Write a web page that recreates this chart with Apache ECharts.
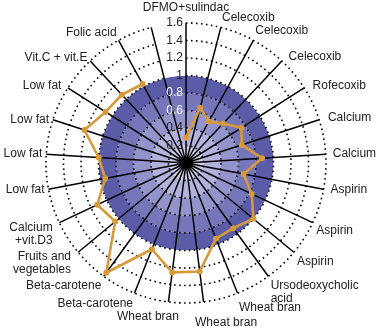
<!DOCTYPE html>
<html><head><meta charset="utf-8">
<script src="https://cdn.jsdelivr.net/npm/echarts@6/dist/echarts.min.js"></script>
<style>html,body{margin:0;padding:0;background:#fff}#c{width:377px;height:328px}</style>
</head><body><div id="c"></div>
<script>
var categories = ['DFMO+sulindac','Celecoxib','Celecoxib','Celecoxib','Rofecoxib','Calcium','Calcium',
  'Aspirin','Aspirin','Aspirin','Ursodeoxycholic\nacid','Wheat bran','Wheat bran','Wheat bran',
  'Beta-carotene','Beta-carotene','Fruits and\nvegetables','Calcium\n+vit.D3','Low fat','Low fat',
  'Low fat','Low fat','Vit.C + vit.E','Folic acid',''];
var values = [0.29,0.65,0.54,0.62,0.75,0.67,0.87,0.67,0.83,1.0,0.92,0.93,1.25,1.26,
  1.06,1.55,1.05,1.12,0.94,1.0,1.22,1.09,1.07,1.03,'-'];
var radiusTicks = [0,0.2,0.4,0.6,0.8,1,1.2,1.4,1.6];
var bandColors = ['#cdcde9','#b2b2dd','#9494cc','#7676ba','#5b5ca8','#ffffff','#ffffff','#ffffff'];

// label nudges (padding) per category index
var labelPad = {
  0:[0,0,5,0], 1:[0,0,-1,53], 3:[0,0,-5,4], 4:[0,0,-6,5], 5:[0,0,-6,5], 6:[3,0,0,3],
  7:[3,0,0,3], 11:[4,0,0,0], 12:[10,0,0,44], 13:[4,40,0,0], 16:[-5,4,0,0], 17:[-3,3,0,0],
  18:[3,0,0,0], 19:[4,0,0,0], 20:[0,0,-8,0], 21:[0,3,-6,0], 22:[0,0,-6,0], 23:[0,0,-2,0]
};
var angleData = categories.map(function(c,i){
  return labelPad[i] ? {value:c, textStyle:{padding:labelPad[i]}} : c;
});

var chart = echarts.init(document.getElementById('c'));
var C=[186,163], R=140;
chart.setOption({
  animation:false,
  textStyle:{fontFamily:'Liberation Sans, Arial, sans-serif'},
  polar:[{center:C,radius:R},{center:C,radius:R}],
  angleAxis:[{
    polarIndex:0, type:'category', data:categories, boundaryGap:false, startAngle:90, clockwise:true,
    axisLine:{show:false}, axisTick:{show:false}, axisLabel:{show:false}, splitLine:{show:false}, z:0
  },{
    polarIndex:1, type:'category', data:angleData, boundaryGap:false, startAngle:90, clockwise:true,
    axisLine:{show:false}, axisTick:{show:false},
    axisLabel:{interval:0, color:'#222', fontSize:12, margin:4, lineHeight:13},
    splitLine:{show:true, interval:0, lineStyle:{color:'#000', width:1.5}}, z:3
  }],
  radiusAxis:[{
    polarIndex:0, type:'value', min:0, max:1.6, interval:0.2,
    axisLine:{show:false}, axisTick:{show:false}, axisLabel:{show:false},
    splitLine:{show:false},
    splitArea:{show:true, areaStyle:{color:bandColors}}, z:0
  },{
    polarIndex:1, type:'value', min:0, max:1.6, interval:0.2,
    axisLine:{show:false}, axisTick:{show:false},
    axisLabel:{fontSize:12, margin:3, showMaxLabel:true,
      formatter:function(v){return String(+(+v).toFixed(1));},
      color:function(v){v=+v; return (v>0.5&&v<0.9)?'#ffffff':'#222';}},
    splitLine:{show:true, lineStyle:{color:'#000', type:[1.6,3.4], width:1.6}},
    splitArea:{show:false}, z:3
  }],
  series:[{
    type:'line', coordinateSystem:'polar', polarIndex:1, data:values,
    symbol:'circle', symbolSize:6, connectNulls:false,
    lineStyle:{color:'#d69a3c', width:2.6},
    itemStyle:{color:'#d69a3c'}, z:10
  }]
});
</script></body></html>
